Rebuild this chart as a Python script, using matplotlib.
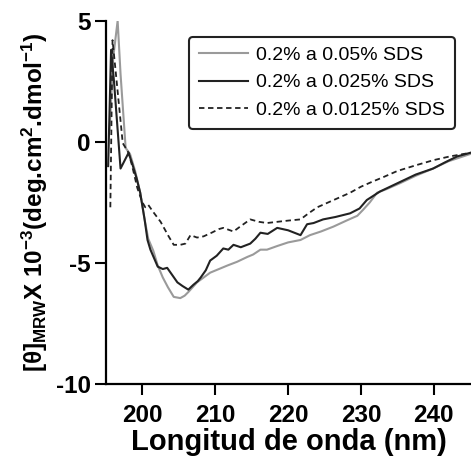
import matplotlib
matplotlib.use("Agg")
import matplotlib.pyplot as plt

plt.rcParams['font.family'] = ['Liberation Sans', 'DejaVu Sans']
plt.rcParams['mathtext.default'] = 'regular'
plt.rcParams['axes.unicode_minus'] = False

# 0.2% a 0.05% SDS (gray)
wl_a = [195.5, 196.0, 196.6, 197.0, 197.7, 198.3, 199.0, 199.7, 200.3, 200.8, 201.5, 202.1,
        202.8, 203.5, 204.3, 205.2, 205.8, 206.3, 206.9, 207.5, 208.4, 209.3, 210.5, 211.7,
        213.0, 214.4, 215.2, 216.2, 217.1, 218.5, 220.0, 221.7, 223.0, 224.5, 226.2, 228.0,
        229.5, 230.3, 231.2, 232.2, 233.5, 235.4, 237.5, 239.9, 242.0, 245.0]
val_a = [0.5, 3.5, 5.0, 2.8, -0.25, -0.5, -1.2, -2.1, -3.2, -4.0, -4.5, -5.1,
         -5.6, -6.0, -6.4, -6.45, -6.35, -6.2, -6.0, -5.8, -5.6, -5.4, -5.25, -5.1,
         -4.95, -4.75, -4.65, -4.45, -4.45, -4.3, -4.15, -4.05, -3.85, -3.7, -3.5, -3.25,
         -3.05, -2.8, -2.5, -2.1, -1.95, -1.7, -1.4, -1.1, -0.8, -0.5]

# 0.2% a 0.025% SDS (black)
wl_b = [195.3, 195.7, 196.1, 196.6, 197.0, 198.1, 198.6, 199.2, 199.7, 200.3, 200.7, 201.1,
        201.6, 202.1, 202.8, 203.4, 204.1, 204.8, 205.5, 206.3, 207.0, 207.6, 208.0, 208.7,
        209.3, 210.2, 211.1, 211.8, 212.5, 213.5, 214.8, 215.5, 216.2, 217.2, 218.5, 220.0,
        221.7, 222.6, 223.5, 224.8, 226.5, 228.5, 229.8, 230.8, 232.6, 234.0, 235.4, 237.5,
        239.9, 241.5, 243.2, 245.0]
val_b = [-1.0, 3.8, 2.5, 0.5, -1.1, -0.45, -0.9, -1.5, -2.1, -3.2, -4.05, -4.45,
         -4.8, -5.15, -5.25, -5.2, -5.5, -5.8, -5.95, -6.1, -5.9, -5.75, -5.6, -5.3,
         -4.9, -4.7, -4.4, -4.45, -4.25, -4.35, -4.2, -4.0, -3.75, -3.8, -3.55, -3.65,
         -3.85, -3.4, -3.35, -3.2, -3.1, -2.95, -2.75, -2.4, -2.05, -1.85, -1.65, -1.35,
         -1.1, -0.85, -0.6, -0.45]

# 0.2% a 0.0125% SDS (dashed)
wl_c = [195.6, 195.9, 196.3, 197.3, 198.1, 198.6, 199.3, 200.0, 200.4, 200.8, 201.5, 202.5,
        203.6, 204.3, 205.2, 205.9, 206.6, 207.5, 208.4, 209.5, 210.5, 211.1, 212.5, 213.4,
        214.8, 216.0, 217.1, 218.5, 220.0, 221.7, 222.8, 224.0, 225.5, 227.0, 228.5, 230.0,
        231.5, 233.1, 235.0, 237.7, 240.0, 242.2, 245.0]
val_c = [-2.7, 4.2, 3.0, -0.05, -0.45, -1.0, -1.9, -2.5, -2.7, -2.6, -2.9, -3.3,
         -3.9, -4.25, -4.25, -4.2, -3.85, -3.95, -3.9, -3.75, -3.6, -3.55, -3.7, -3.5,
         -3.2, -3.3, -3.35, -3.3, -3.25, -3.2, -2.95, -2.7, -2.5, -2.3, -2.1, -1.85,
         -1.65, -1.45, -1.2, -0.95, -0.75, -0.6, -0.45]

labels = ['0.2% a 0.05% SDS', '0.2% a 0.025% SDS', '0.2% a 0.0125% SDS']
xticks = [200, 210, 220, 230, 240]
yticks = [-10, -5, 0, 5]

fig = plt.figure(figsize=(4.71, 4.73), dpi=100)
ax = fig.add_axes([0.225, 0.188, 0.775, 0.768])

ax.plot(wl_a, val_a, color='#9a9a9a', lw=1.5, label=labels[0])
ax.plot(wl_b, val_b, color='#222222', lw=1.5, label=labels[1])
ax.plot(wl_c, val_c, color='#222222', lw=1.3, ls=(0, (3, 2)), label=labels[2])

ax.set_xlim(195, 245.1)
ax.set_ylim(-10, 5)
ax.set_xticks(xticks)
ax.set_yticks(yticks)
ax.spines['top'].set_visible(False)
ax.spines['right'].set_visible(False)
ax.spines['left'].set_linewidth(1.6)
ax.spines['bottom'].set_linewidth(1.6)
ax.tick_params(direction='out', length=8, width=1.5, labelsize=17.5)
ax.tick_params(axis='x', pad=6)
ax.tick_params(axis='y', pad=3)
for t in ax.get_xticklabels() + ax.get_yticklabels():
    t.set_fontweight('bold')

ax.set_xlabel('Longitud de onda (nm)', fontsize=21, fontweight='bold', labelpad=1)
ax.set_ylabel(r'[θ]$_{MRW}$X 10$^{-3}$(deg.cm$^{2}$.dmol$^{-1}$)',
              fontsize=17.5, fontweight='bold', labelpad=4)

leg = ax.legend(loc='upper right', bbox_to_anchor=(0.956, 0.956), borderaxespad=0,
                fontsize=14, handlelength=2.5, handletextpad=0.45, labelspacing=0.5,
                borderpad=0.5, frameon=True, fancybox=True)
leg.get_frame().set_edgecolor('#222222')
leg.get_frame().set_linewidth(1.5)
leg.get_frame().set_alpha(1)

fig.savefig('out.png', dpi=100)
